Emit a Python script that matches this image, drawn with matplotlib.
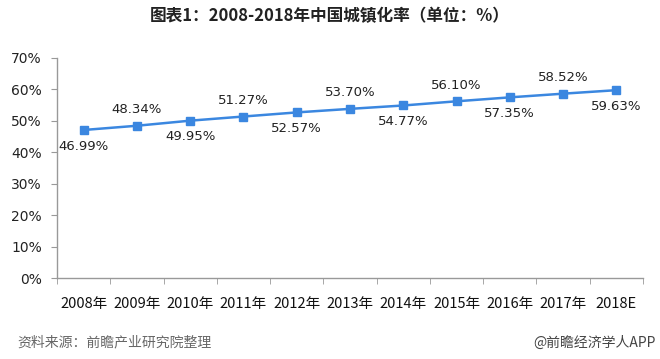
import matplotlib
matplotlib.use("Agg")
import matplotlib.pyplot as plt
from matplotlib.ticker import FuncFormatter, MultipleLocator

plt.rcParams['font.family'] = ['Noto Sans CJK SC', 'DejaVu Sans']

categories = ["2008年", "2009年", "2010年", "2011年", "2012年", "2013年",
              "2014年", "2015年", "2016年", "2017年", "2018E"]
values = [46.99, 48.34, 49.95, 51.27, 52.57, 53.70, 54.77, 56.10, 57.35, 58.52, 59.63]
labels = ["46.99%", "48.34%", "49.95%", "51.27%", "52.57%", "53.70%",
          "54.77%", "56.10%", "57.35%", "58.52%", "59.63%"]

fig = plt.figure(figsize=(6.6, 3.59), dpi=100)
ax = fig.add_axes([0.0864, 0.2256, 0.8878, 0.6142])

x = list(range(len(categories)))
ax.plot(x, values, color="#3b87e0", lw=1.8, marker="s", ms=6,
        mfc="#3b87e0", mec="#3b87e0", zorder=3)

for i, (v, lab) in enumerate(zip(values, labels)):
    if i % 2 == 0:
        ax.annotate(lab, (i, v), xytext=(0, -7), textcoords="offset points",
                    ha="center", va="top", fontsize=9.5, color="#222222",
                    family=['DejaVu Sans'])
    else:
        ax.annotate(lab, (i, v), xytext=(0, 7), textcoords="offset points",
                    ha="center", va="bottom", fontsize=9.5, color="#222222",
                    family=['DejaVu Sans'])

ax.set_xlim(-0.5, len(categories) - 0.5)
ax.set_ylim(0, 70)
ax.yaxis.set_major_locator(MultipleLocator(10))
ax.yaxis.set_major_formatter(FuncFormatter(lambda v, p: f"{int(round(v))}%"))
ax.set_xticks(x)
ax.set_xticklabels(categories, fontsize=10.5, color="#111111")
ax.set_xticks([i - 0.5 for i in range(len(categories) + 1)], minor=True)
ax.tick_params(axis="x", which="major", length=0, pad=14)
ax.tick_params(axis="x", which="minor", length=4, color="#999999", direction="out")
ax.tick_params(axis="y", length=4, color="#999999", labelsize=10, labelcolor="#222222", pad=7)
for lab in ax.get_yticklabels():
    lab.set_family(['DejaVu Sans'])

for s in ["top", "right"]:
    ax.spines[s].set_visible(False)
for s in ["left", "bottom"]:
    ax.spines[s].set_color("#999999")
    ax.spines[s].set_linewidth(1.0)

fig.text(0.5, 0.955, "图表1：2008-2018年中国城镇化率（单位：%）", ha="center", va="center",
         fontsize=12, fontweight="bold", color="#222222")
fig.text(0.027, 0.045, "资料来源：前瞻产业研究院整理", ha="left", va="center",
         fontsize=10, color="#666666", style="italic")
fig.text(0.993, 0.045, "@前瞻经济学人APP", ha="right", va="center",
         fontsize=10, color="#444444")

fig.savefig("out.png", dpi=100)
